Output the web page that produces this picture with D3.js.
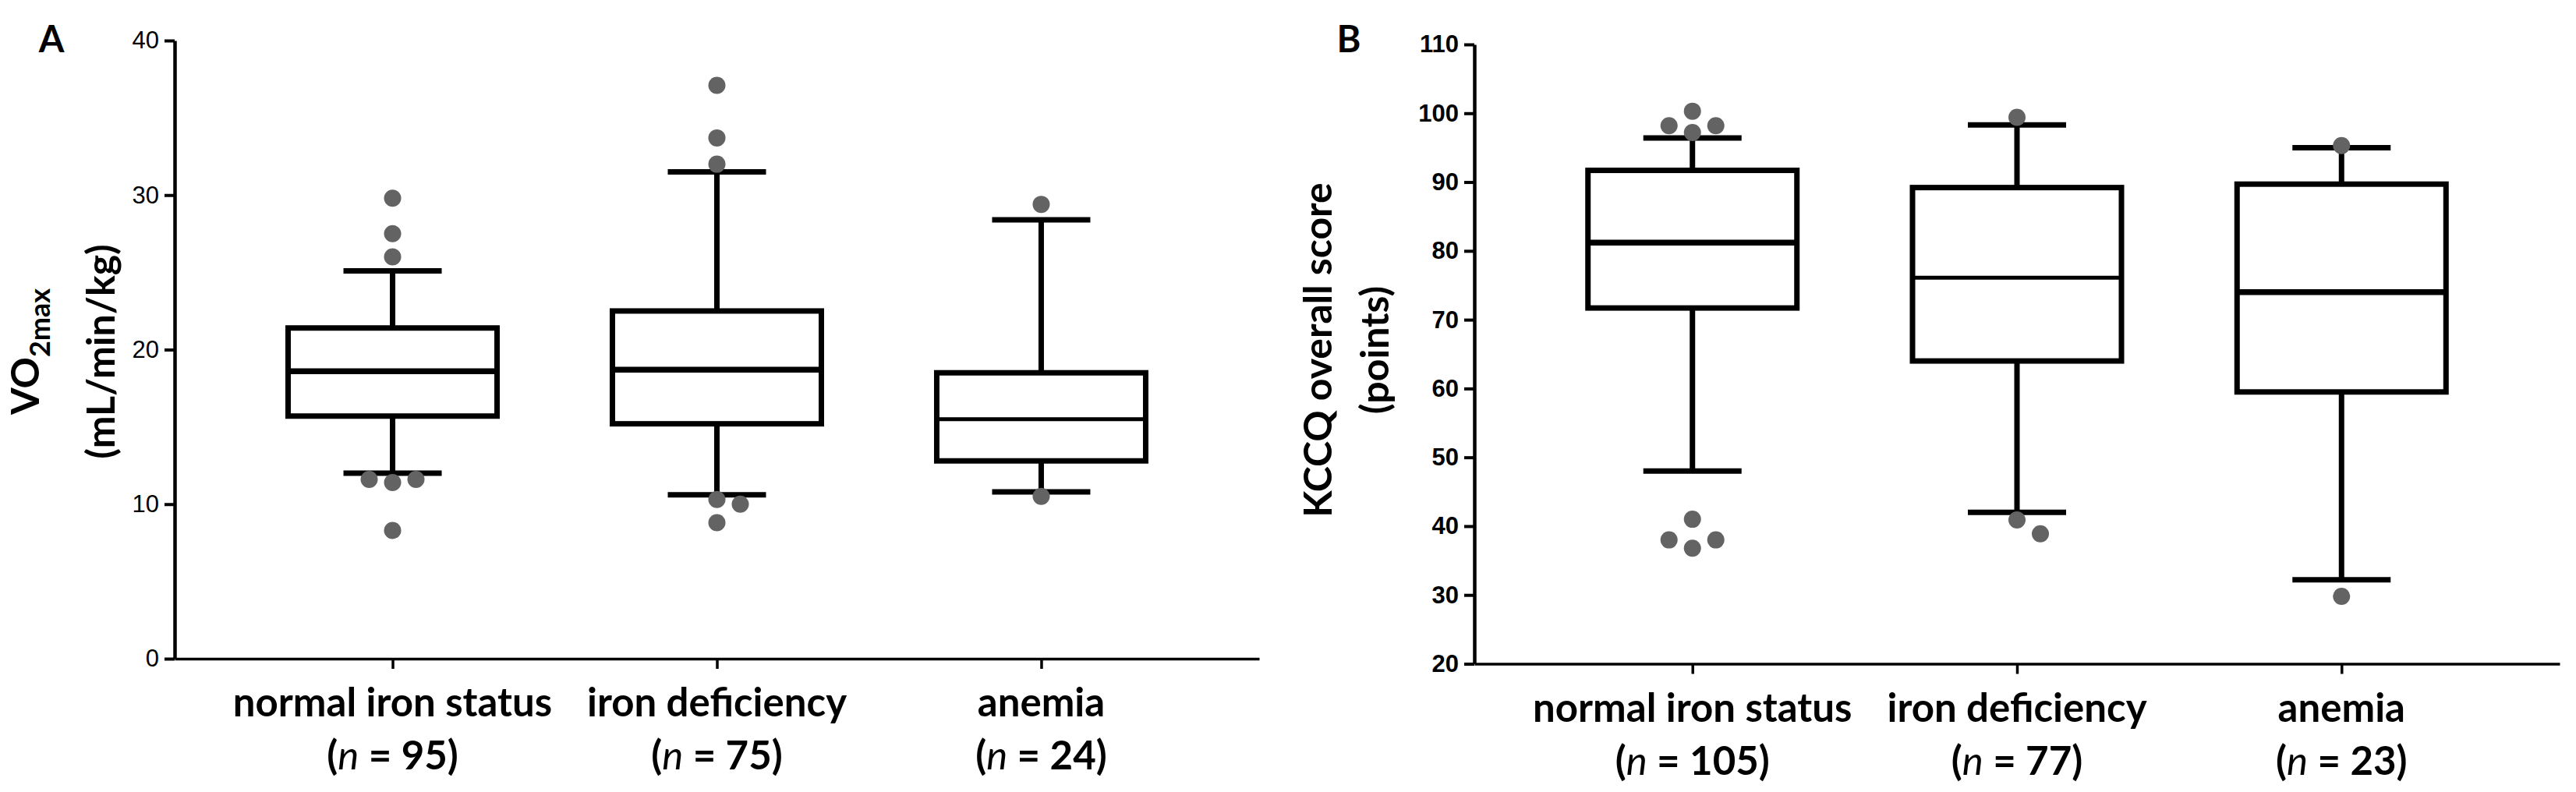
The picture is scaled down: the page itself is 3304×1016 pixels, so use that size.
<!DOCTYPE html>
<html>
<head>
<meta charset="utf-8">
<script src="https://cdn.jsdelivr.net/npm/d3@7"></script>
<style>
  body { margin: 0; background: #fff; }
  svg { display: block; font-family: Lato, "Open Sans", sans-serif; }
</style>
</head>
<body>
<div id="chart"></div>
<script>
// groups shared by both panels
var groups = ["normal iron status", "iron deficiency", "anemia"];

// panel A: VO2max (mL/min/kg)
var vo2N = [95, 75, 24];
var vo2Low = [12.0, 10.6, 10.8];
var vo2Q1 = [15.7, 15.2, 12.8];
var vo2Median = [18.6, 18.7, 15.5];
var vo2Q3 = [21.4, 22.5, 18.5];
var vo2High = [25.1, 31.5, 28.4];
var vo2Outliers = [
  [29.8, 27.5, 26.0, 11.4, 11.6, 11.6, 8.3],
  [37.1, 33.7, 32.0, 10.3, 10.0, 8.8],
  [29.4, 10.5]
];
var vo2Ticks = [0, 10, 20, 30, 40];

// panel B: KCCQ overall score (points)
var kccqN = [105, 77, 23];
var kccqLow = [48.0, 42.0, 32.2];
var kccqQ1 = [71.7, 64.0, 59.5];
var kccqMedian = [81.2, 76.1, 74.0];
var kccqQ3 = [91.7, 89.2, 89.7];
var kccqHigh = [96.4, 98.3, 95.0];
var kccqOutliers = [
  [97.2, 98.2, 98.2, 100.3, 41.0, 36.8, 38.0, 38.0],
  [99.4, 40.9, 38.9],
  [95.3, 29.8]
];
var kccqTicks = [20, 30, 40, 50, 60, 70, 80, 90, 100, 110];

var W = 3304, H = 1016;
var svg = d3.select("#chart").append("svg")
    .attr("width", W)
    .attr("height", H);

function drawPanel(p) {
  var g = svg.append("g");

  var x = d3.scalePoint().domain(groups).range(p.xRange).padding(0.672);
  var y = d3.scaleLinear().domain(p.yDomain).range(p.yRange);

  var boxes = groups.map(function (name, i) {
    return {
      name: name, n: p.n[i], low: p.low[i], q1: p.q1[i],
      median: p.median[i], q3: p.q3[i], high: p.high[i],
      outliers: p.outliers[i]
    };
  });

  // y axis
  var yAxis = g.append("g")
      .attr("transform", "translate(" + p.xRange[0] + ",0)")
      .call(d3.axisLeft(y).tickValues(p.ticks).tickSize(13).tickSizeOuter(0).tickPadding(7));
  yAxis.select(".domain").attr("stroke", "#000").attr("stroke-width", 4.5);
  yAxis.selectAll(".tick line").attr("stroke", "#000").attr("stroke-width", 4);
  yAxis.selectAll(".tick text")
      .attr("fill", "#000")
      .style("font-size", "31px")
      .style("font-weight", p.tickWeight);

  // x axis
  var xAxis = g.append("g")
      .attr("transform", "translate(0," + p.yRange[0] + ")")
      .call(d3.axisBottom(x).tickSize(13).tickSizeOuter(0).tickFormat(""));
  xAxis.select(".domain").attr("stroke", "#000").attr("stroke-width", 3.5);
  xAxis.selectAll(".tick line").attr("stroke", "#000").attr("stroke-width", 3.5);

  // category labels, two lines each
  var lab = g.append("g").selectAll("text")
      .data(boxes)
      .join("text")
      .attr("text-anchor", "middle")
      .style("font-size", "51px")
      .style("font-weight", "bold");
  lab.append("tspan")
      .attr("x", function (d) { return x(d.name); })
      .attr("y", p.yRange[0] + 74)
      .text(function (d) { return d.name; });
  var nLine = lab.append("tspan")
      .attr("x", function (d) { return x(d.name); })
      .attr("y", p.yRange[0] + 142);
  nLine.append("tspan").text("(");
  nLine.append("tspan").style("font-style", "italic").style("font-weight", "normal").text("n");
  nLine.append("tspan").text(function (d) { return " = " + d.n + ")"; });

  var capW = 126, boxW = 268;
  var item = g.append("g").selectAll("g")
      .data(boxes)
      .join("g")
      .attr("transform", function (d) { return "translate(" + x(d.name) + ",0)"; });

  // whiskers
  item.append("line")
      .attr("x1", 0).attr("x2", 0)
      .attr("y1", function (d) { return y(d.high); })
      .attr("y2", function (d) { return y(d.low); })
      .attr("stroke", "#000").attr("stroke-width", 7);
  item.selectAll(".cap")
      .data(function (d) { return [d.low, d.high]; })
      .join("line")
      .attr("class", "cap")
      .attr("x1", -capW / 2).attr("x2", capW / 2)
      .attr("y1", function (v) { return y(v); })
      .attr("y2", function (v) { return y(v); })
      .attr("stroke", "#000").attr("stroke-width", 7);

  // box and median
  item.append("rect")
      .attr("x", -boxW / 2)
      .attr("width", boxW)
      .attr("y", function (d) { return y(d.q3); })
      .attr("height", function (d) { return y(d.q1) - y(d.q3); })
      .attr("fill", "#fff")
      .attr("stroke", "#000")
      .attr("stroke-width", 7);
  item.append("line")
      .attr("x1", -boxW / 2).attr("x2", boxW / 2)
      .attr("y1", function (d) { return y(d.median); })
      .attr("y2", function (d) { return y(d.median); })
      .attr("stroke", "#000")
      .attr("stroke-width", function (d) { return p.thinMedian.indexOf(d.name) >= 0 ? 5 : 7.5; });

  // outliers: spread sideways when they would overlap
  var r = 11, slot = 30;
  item.each(function (d) {
    var placed = [];
    d.outliers.forEach(function (v) {
      var cy = y(v), offsets = [0, slot, -slot, 2 * slot, -2 * slot], cx = 0;
      for (var k = 0; k < offsets.length; k++) {
        var ok = placed.every(function (q) {
          return Math.hypot(q[0] - offsets[k], q[1] - cy) >= 2 * r + 2;
        });
        if (ok) { cx = offsets[k]; break; }
      }
      placed.push([cx, cy]);
    });
    d3.select(this).selectAll("circle")
        .data(placed)
        .join("circle")
        .attr("cx", function (q) { return q[0]; })
        .attr("cy", function (q) { return q[1]; })
        .attr("r", r)
        .attr("fill", "#636363");
  });

  // y title (two rotated lines)
  p.title(g);

  // panel letter
  g.append("text")
      .attr("x", p.letterX)
      .attr("y", 67)
      .attr("text-anchor", "middle")
      .style("font-size", "47px")
      .style("font-weight", "bold")
      .text(p.letter);
}

drawPanel({
  letter: "A", letterX: 66,
  xRange: [224, 1615], yDomain: [0, 40], yRange: [845, 52],
  n: vo2N, low: vo2Low, q1: vo2Q1, median: vo2Median, q3: vo2Q3, high: vo2High,
  outliers: vo2Outliers, ticks: vo2Ticks, tickWeight: "normal",
  thinMedian: ["anemia"],
  title: function (g) {
    var t1 = g.append("text")
        .attr("transform", "translate(50,451) rotate(-90)")
        .attr("text-anchor", "middle")
        .style("font-size", "50px")
        .style("font-weight", "bold");
    t1.append("tspan").text("VO");
    t1.append("tspan").attr("dy", 14).style("font-size", "36px").text("2max");
    g.append("text")
        .attr("transform", "translate(147,451) rotate(-90)")
        .attr("text-anchor", "middle")
        .style("font-size", "50px")
        .style("font-weight", "bold")
        .text("(mL/min/kg)");
  }
});

drawPanel({
  letter: "B", letterX: 1730,
  xRange: [1891, 3283], yDomain: [20, 110], yRange: [851.5, 57],
  n: kccqN, low: kccqLow, q1: kccqQ1, median: kccqMedian, q3: kccqQ3, high: kccqHigh,
  outliers: kccqOutliers, ticks: kccqTicks, tickWeight: "bold",
  thinMedian: ["iron deficiency"],
  title: function (g) {
    g.append("text")
        .attr("transform", "translate(1708,449) rotate(-90)")
        .attr("text-anchor", "middle")
        .style("font-size", "50px")
        .style("font-weight", "bold")
        .text("KCCQ overall score");
    g.append("text")
        .attr("transform", "translate(1781,449) rotate(-90)")
        .attr("text-anchor", "middle")
        .style("font-size", "50px")
        .style("font-weight", "bold")
        .text("(points)");
  }
});
</script>
</body>
</html>
